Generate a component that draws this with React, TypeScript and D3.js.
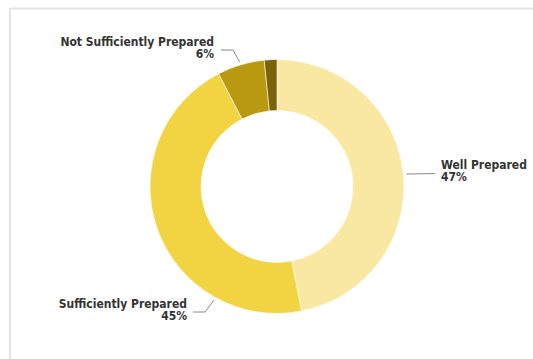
import React from "react";
import * as d3 from "d3";

const categories = ["Well Prepared", "Sufficiently Prepared", "Not Sufficiently Prepared", "Unprepared"];
const values = [46.9, 45.5, 6.0, 1.6];
const labelTexts = ["47%", "45%", "6%", ""];
const colors = ["#F9E8A2", "#F2D442", "#B99910", "#7A6308"];

const W = 533;
const H = 359;
const cx = 277;
const cy = 186.5;
const outerR = 127;
const innerR = 76;

// label layout: angle (deg, clockwise from top) where leader touches, elbow & text placement
const labelLayout = [
  { angle: 84.5, side: "right", elbow: null as null | [number, number], tx: 441, ty: 169 },
  { angle: 209, side: "left", elbow: [205, 312] as [number, number], tx: 187, ty: 308 },
  { angle: 343.3, side: "left", elbow: [233, 50] as [number, number], tx: 214, ty: 46 },
  null,
];

export default function App() {
  const pie = d3.pie<number>().sort(null).value((d) => d);
  const arcs = pie(values);
  const arc = d3.arc<d3.PieArcDatum<number>>().innerRadius(innerR).outerRadius(outerR);
  const font = "'DejaVu Sans Condensed', 'DejaVu Sans', sans-serif";

  return (
    <svg
      width={W}
      height={H}
      style={{ position: "absolute", left: 0, top: 0, background: "#fff" }}
    >
      <line x1={10} y1={8.5} x2={W} y2={8.5} stroke="#e3e3e3" strokeWidth={2} />
      <line x1={10} y1={8} x2={10} y2={H} stroke="#e3e3e3" strokeWidth={2} />
      <g transform={`translate(${cx},${cy})`}>
        {arcs.map((a, i) => (
          <path key={i} d={arc(a) || ""} fill={colors[i]} stroke="#fff" strokeWidth={0.6} />
        ))}
      </g>
      {labelLayout.map((l, i) => {
        if (!l) return null;
        const rad = (l.angle * Math.PI) / 180;
        const r = outerR + 3;
        const px = cx + r * Math.sin(rad);
        const py = cy - r * Math.cos(rad);
        let pts: [number, number][];
        if (l.side === "right") {
          pts = [[px, py], [l.tx - 6, py - 0.5]];
        } else {
          pts = [[l.elbow![0] - 12, l.elbow![1]], l.elbow!, [px, py]];
        }
        const anchor = l.side === "right" ? "start" : "end";
        return (
          <g key={i}>
            <polyline
              points={pts.map((p) => p.join(",")).join(" ")}
              fill="none"
              stroke="#8a8a8a"
              strokeWidth={1}
            />
            <text
              x={l.tx}
              y={l.ty}
              textAnchor={anchor}
              fontFamily={font}
              fontWeight="bold"
              fontSize={12}
              fill="#333"
            >
              {categories[i]}
            </text>
            <text
              x={l.tx}
              y={l.ty + 12}
              textAnchor={anchor}
              fontFamily={font}
              fontWeight="bold"
              fontSize={12}
              fill="#333"
            >
              {labelTexts[i]}
            </text>
          </g>
        );
      })}
    </svg>
  );
}
